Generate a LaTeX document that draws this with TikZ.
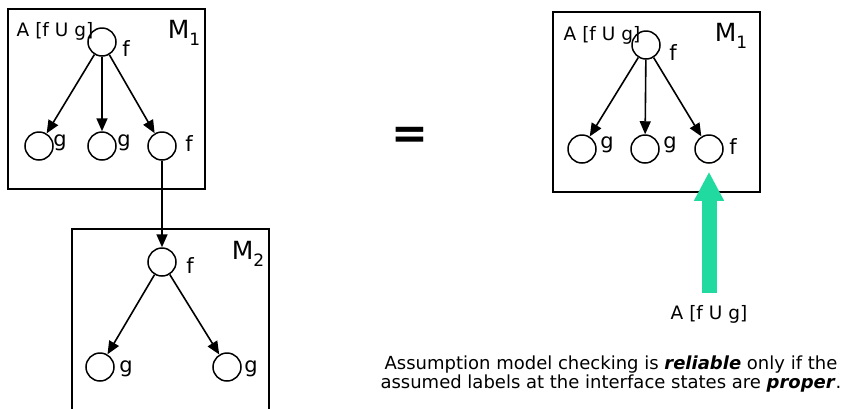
\documentclass[tikz,border=0pt]{standalone}
\usepackage{fontspec}
\setmainfont{DejaVu Sans}
\usetikzlibrary{arrows.meta}
\definecolor{turq}{RGB}{32,218,160}
\newcommand{\modname}[2]{#1\raisebox{-0.3em}{\fontsize{17}{17}\selectfont #2}}
\begin{document}
\begin{tikzpicture}[x=1pt,y=-1pt,
  st/.style={draw,circle,minimum size=28pt,inner sep=0pt,line width=1.5pt},
  lbl/.style={inner sep=0pt,font=\fontsize{21}{21}\selectfont},
  albl/.style={inner sep=0pt,font=\fontsize{18.5}{18.5}\selectfont},
  mname/.style={inner sep=0pt,font=\fontsize{25}{25}\selectfont},
  modbox/.style={draw,line width=1.6pt},
  edge/.style={line width=1.6pt,-{Triangle[length=13pt,width=11pt]}},
  bigarrow/.style={draw=turq,line width=15pt,-{Triangle[length=29pt,width=28pt]}}]
\useasboundingbox (0,0) rectangle (844,408);
% left M1
\draw[modbox] (8,9) rectangle (205,189);
\node[albl] (la) at (55,31) {A [f U g]};
\node[mname] (lm1) at (184,33) {\modname{M}{1}};
\node[st] (a0) at (102,42) {};
\node[st] (a1) at (39,146) {};
\node[st] (a2) at (102,146) {};
\node[st] (a3) at (162,146) {};
\node[lbl] (a0l) at (126,49) {f};
\node[lbl] (a1l) at (60,143) {g};
\node[lbl] (a2l) at (124,143) {g};
\node[lbl] (a3l) at (189,144) {f};
\draw[edge] (a0) -- (a1);
\draw[edge] (a0) -- (a2);
\draw[edge] (a0) -- (a3);
% M2
\draw[modbox] (72,410) -- (72,229) -- (269,229) -- (269,410);
\node[mname] (lm2) at (248,254) {\modname{M}{2}};
\node[st] (b0) at (162,262) {};
\node[st] (b1) at (100,367) {};
\node[st] (b2) at (227,367) {};
\node[lbl] (b0l) at (190,266) {f};
\node[lbl] (b1l) at (126,369) {g};
\node[lbl] (b2l) at (251,369) {g};
\draw[edge] (a3) -- (b0);
\draw[edge] (b0) -- (b1);
\draw[edge] (b0) -- (b2);
% equals
\node[inner sep=0pt,font=\fontsize{44}{44}\selectfont\bfseries] (eq) at (410,138) {=};
% right M1
\draw[modbox] (553,12) rectangle (760,192);
\node[albl] (ra) at (602,35) {A [f U g]};
\node[mname] (rm1) at (731,36) {\modname{M}{1}};
\node[st] (c0) at (646,45) {};
\node[st] (c1) at (582,149) {};
\node[st] (c2) at (645,149) {};
\node[st] (c3) at (709,149) {};
\node[lbl] (c0l) at (673,53) {f};
\node[lbl] (c1l) at (607,145) {g};
\node[lbl] (c2l) at (670,145) {g};
\node[lbl] (c3l) at (733,147) {f};
\draw[edge] (c0) -- (c1);
\draw[edge] (c0) -- (c2);
\draw[edge] (c0) -- (c3);
% assumption arrow
\coordinate (gbase) at (709,293);
\draw[bigarrow] (gbase) -- ([yshift=-8pt]c3.south);
\node[albl] (al) at (709,314) {A [f U g]};
% caption
\node[inner sep=0pt,align=center,font=\fontsize{18}{18.5}\selectfont] (cap) at (611,374)
 {Assumption model checking is \textbf{\textit{reliable}} only if the\\
  assumed labels at the interface states are \textbf{\textit{proper}}.};
\end{tikzpicture}
\end{document}
